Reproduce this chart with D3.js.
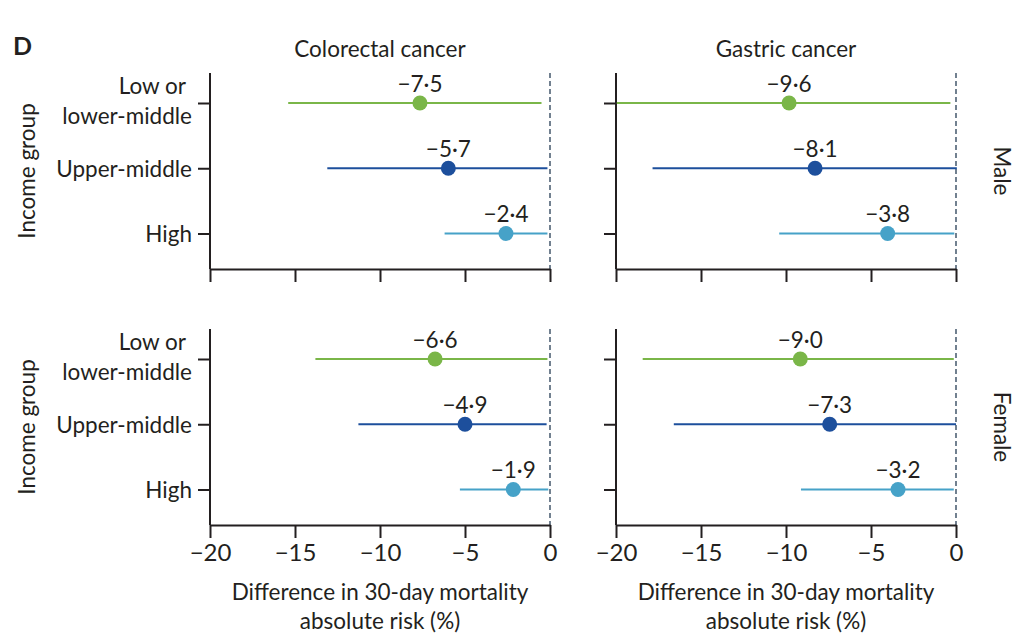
<!DOCTYPE html>
<html>
<head>
<meta charset="utf-8">
<script src="https://cdn.jsdelivr.net/npm/d3@7"></script>
<style>
  body { margin: 0; background: #fff; }
  text { font-family: Lato, "Open Sans", sans-serif; fill: #231f20; }
</style>
</head>
<body>
<svg id="chart" width="1026" height="634"></svg>
<script>
// categories
const cancers = ["Colorectal cancer", "Gastric cancer"];
const sexes = ["Male", "Female"];
const groups = ["Low or lower-middle", "Upper-middle", "High"];
const xTicks = [-20, -15, -10, -5, 0];
const groupColors = ["#7ab648", "#1d4f9c", "#46a2c8"];

// point estimates (as drawn), CI ends and printed labels, order: low, upper-middle, high
const colorectalMaleEst = [-7.65, -5.98, -2.59];
const colorectalMaleLo = [-15.4, -13.1, -6.2];
const colorectalMaleHi = [-0.5, -0.15, -0.15];
const colorectalMaleLabel = ["−7·5", "−5·7", "−2·4"];

const gastricMaleEst = [-9.82, -8.29, -4.02];
const gastricMaleLo = [-19.95, -17.85, -10.4];
const gastricMaleHi = [-0.33, 0.05, -0.1];
const gastricMaleLabel = ["−9·6", "−8·1", "−3·8"];

const colorectalFemaleEst = [-6.76, -5.0, -2.16];
const colorectalFemaleLo = [-13.8, -11.27, -5.3];
const colorectalFemaleHi = [-0.15, -0.2, -0.1];
const colorectalFemaleLabel = ["−6·6", "−4·9", "−1·9"];

const gastricFemaleEst = [-9.16, -7.43, -3.41];
const gastricFemaleLo = [-18.43, -16.6, -9.12];
const gastricFemaleHi = [-0.13, 0.0, -0.13];
const gastricFemaleLabel = ["−9·0", "−7·3", "−3·2"];

const panels = [
  { cancer: 0, sex: 0, est: colorectalMaleEst, lo: colorectalMaleLo, hi: colorectalMaleHi, labels: colorectalMaleLabel },
  { cancer: 1, sex: 0, est: gastricMaleEst, lo: gastricMaleLo, hi: gastricMaleHi, labels: gastricMaleLabel },
  { cancer: 0, sex: 1, est: colorectalFemaleEst, lo: colorectalFemaleLo, hi: colorectalFemaleHi, labels: colorectalFemaleLabel },
  { cancer: 1, sex: 1, est: gastricFemaleEst, lo: gastricFemaleLo, hi: gastricFemaleHi, labels: gastricFemaleLabel }
];

const svg = d3.select("#chart");
const fs = 22.5;

// panel layout
const colX = [210, 616], rowY = [73, 329];
const pw = 340, ph = 196;

const x = d3.scaleLinear().domain([-20, 0]).range([0, pw]);
const y = d3.scalePoint().domain(groups).range([30, 160.5]);

panels.forEach(p => {
  const g = svg.append("g").attr("transform", `translate(${colX[p.cancer]},${rowY[p.sex]})`);

  // reference line at 0
  g.append("line")
    .attr("x1", x(0)).attr("x2", x(0))
    .attr("y1", 0).attr("y2", ph)
    .attr("stroke", "#4f6275")
    .attr("stroke-width", 1.6)
    .attr("stroke-dasharray", "5,3");

  // x axis
  const xa = g.append("g")
    .attr("transform", `translate(0,${ph})`)
    .call(d3.axisBottom(x).tickValues(xTicks).tickSize(13).tickSizeOuter(0).tickPadding(6));
  xa.selectAll("text").style("font-size", "24px");
  if (p.sex === 0) xa.selectAll("text").remove();

  // y axis
  const ya = g.append("g")
    .call(d3.axisLeft(y).tickSize(12).tickPadding(6));
  ya.select(".domain").remove();
  ya.selectAll("text").style("font-size", fs + "px").attr("dy", "0.35em");
  if (p.cancer === 1) {
    ya.selectAll("text").remove();
  } else {
    // first group label wraps onto two lines
    const first = ya.selectAll(".tick").filter(d => d === groups[0]);
    first.select("text").attr("x", -24).attr("y", -17).text("Low or");
    first.append("text")
      .attr("fill", "currentColor")
      .attr("x", -18).attr("y", 13).attr("dy", "0.35em")
      .style("font-size", fs + "px")
      .text("lower-middle");
  }
  g.append("line")
    .attr("x1", 0).attr("x2", 0).attr("y1", 0).attr("y2", ph)
    .attr("stroke", "#231f20").attr("stroke-width", 2);
  g.selectAll(".domain, .tick line").attr("stroke", "#231f20").attr("stroke-width", 2);

  // CI lines
  g.selectAll(".ci")
    .data(groups)
    .join("line")
    .attr("class", "ci")
    .attr("x1", (d, i) => x(p.lo[i]))
    .attr("x2", (d, i) => x(p.hi[i]))
    .attr("y1", d => y(d)).attr("y2", d => y(d))
    .attr("stroke", (d, i) => groupColors[i])
    .attr("stroke-width", 2);

  // points
  g.selectAll(".pt")
    .data(groups)
    .join("circle")
    .attr("class", "pt")
    .attr("cx", (d, i) => x(p.est[i]))
    .attr("cy", d => y(d))
    .attr("r", 7.5)
    .attr("fill", (d, i) => groupColors[i]);

  // value labels
  g.selectAll(".val")
    .data(groups)
    .join("text")
    .attr("class", "val")
    .attr("x", (d, i) => x(p.est[i]))
    .attr("y", d => y(d) - 11.5)
    .attr("text-anchor", "middle")
    .style("font-size", fs + "px")
    .text((d, i) => p.labels[i]);
});

// column titles
cancers.forEach((c, i) => {
  svg.append("text")
    .attr("x", colX[i] + pw / 2).attr("y", 56.5)
    .attr("text-anchor", "middle")
    .style("font-size", fs + "px")
    .text(c);

  svg.append("text")
    .attr("x", colX[i] + pw / 2).attr("y", 600)
    .attr("text-anchor", "middle")
    .style("font-size", fs + "px")
    .text("Difference in 30-day mortality");
  svg.append("text")
    .attr("x", colX[i] + pw / 2).attr("y", 629)
    .attr("text-anchor", "middle")
    .style("font-size", fs + "px")
    .text("absolute risk (%)");
});

// row labels
sexes.forEach((s, i) => {
  const cy = rowY[i] + ph / 2;
  svg.append("text")
    .attr("transform", `translate(27,${cy}) rotate(-90)`)
    .attr("text-anchor", "middle")
    .attr("dy", "0.35em")
    .style("font-size", fs + "px")
    .text("Income group");
  svg.append("text")
    .attr("transform", `translate(1002,${cy}) rotate(90)`)
    .attr("text-anchor", "middle")
    .attr("dy", "0.35em")
    .style("font-size", fs + "px")
    .text(s);
});

svg.append("text")
  .attr("x", 13).attr("y", 55)
  .style("font-size", "25px")
  .style("font-weight", "bold")
  .text("D");
</script>
</body>
</html>
